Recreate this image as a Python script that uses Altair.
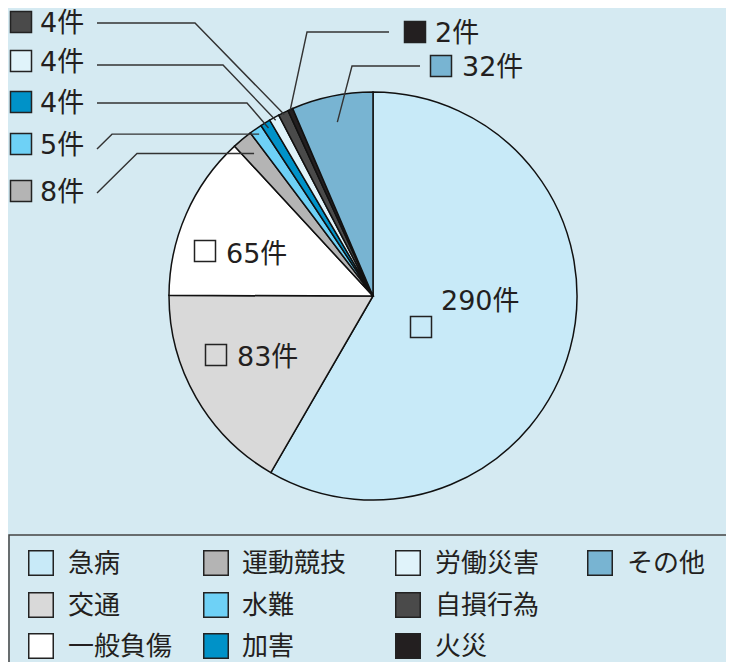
import math
import altair as alt
import pandas as pd

# ---------------- data ----------------
categories = ["急病", "交通", "一般負傷", "運動競技", "水難", "加害", "労働災害", "自損行為", "火災", "その他"]
counts = [290, 83, 65, 8, 5, 4, 4, 4, 2, 32]
colors = ["#c8eaf8", "#d9d9d9", "#ffffff", "#b4b4b4", "#6ed1f6", "#0092c8", "#e0f3fa", "#4a4a4a", "#231f20", "#78b4d2"]
unit = "件"

# ---------------- layout (page pixel coordinates) ----------------
PAGE_W, PAGE_H, MARGIN = 734, 670, 8
CX, CY, R = 373, 296, 204
FONT = "Noto Sans CJK JP"
NUM_FONT = "DejaVu Sans, Noto Sans CJK JP"
TEXT_COLOR = "#231f20"
BG = "#d5eaf2"

# outer labels: swatch centre, text start, leader start, elbow x, elbow mode, anchor radius fraction
outer = {
    "自損行為": dict(sx=21, sy=22, tx=40, lx=97, ly=23, ex=195, mode="label", rf=0.99),
    "労働災害": dict(sx=21, sy=61, tx=40, lx=97, ly=65, ex=223, mode="label", rf=0.985),
    "加害": dict(sx=21, sy=102, tx=40, lx=97, ly=103, ex=247, mode="label", rf=0.97),
    "水難": dict(sx=21, sy=144, tx=40, lx=97, ly=149, ex=112, mode="anchor", rf=0.97),
    "運動競技": dict(sx=21, sy=191, tx=40, lx=97, ly=193, ex=137, mode="anchor", rf=0.91),
    "火災": dict(sx=415, sy=32, tx=435, lx=389, ly=32, ex=307, mode="label", rf=1.0),
    "その他": dict(sx=441, sy=66, tx=462, lx=420, ly=66, ex=352, mode="label", rf=0.87),
}
# inner labels: swatch centre and text start
inner = {
    "急病": dict(sx=421, sy=327, tx=441, ty=301),
    "交通": dict(sx=216, sy=355, tx=237, ty=357),
    "一般負傷": dict(sx=205, sy=251, tx=226, ty=254),
}
leg_swatch_x = [41, 216, 408, 600]
leg_text_x = [68, 242, 435, 627]
leg_row_y = [563, 605, 646]

xs = alt.Scale(domain=[MARGIN, PAGE_W - MARGIN], nice=False, zero=False)
ys = alt.Scale(domain=[MARGIN, PAGE_H - MARGIN], nice=False, zero=False, reverse=True)
cscale = alt.Scale(domain=categories, range=colors)

# ---------------- derived tables ----------------
total = sum(counts)
cum = 0
mid_angle = {}
for c, n in zip(categories, counts):
    mid_angle[c] = (cum + n / 2) / total * 2 * math.pi
    cum += n

pie_df = pd.DataFrame({"cat": categories, "n": counts, "ord": list(range(len(categories)))})

line_rows, sw_rows, txt_rows = [], [], []
for c, n in zip(categories, counts):
    label = f"{n}{unit}"
    if c in outer:
        o = outer[c]
        a = mid_angle[c]
        ax = CX + o["rf"] * R * math.sin(a)
        ay = CY - o["rf"] * R * math.cos(a)
        ey = o["ly"] if o["mode"] == "label" else ay
        for i, (px, py) in enumerate([(o["lx"], o["ly"]), (o["ex"], ey), (ax, ay)]):
            line_rows.append({"id": c, "seq": i, "x": px, "y": py})
        sw_rows.append({"cat": c, "x": o["sx"], "y": o["sy"]})
        txt_rows.append({"t": label, "x": o["tx"], "y": o["sy"] + 2})
    if c in inner:
        o = inner[c]
        sw_rows.append({"cat": c, "x": o["sx"], "y": o["sy"]})
        txt_rows.append({"t": label, "x": o["tx"], "y": o["ty"] + 1})

leg_sw, leg_txt = [], []
for i, c in enumerate(categories):
    col, row = i // 3, i % 3
    leg_sw.append({"cat": c, "x": leg_swatch_x[col], "y": leg_row_y[row]})
    leg_txt.append({"t": c, "x": leg_text_x[col], "y": leg_row_y[row] + 1})

line_df = pd.DataFrame(line_rows)
sw_df = pd.DataFrame(sw_rows)
txt_df = pd.DataFrame(txt_rows)
leg_sw_df = pd.DataFrame(leg_sw)
leg_txt_df = pd.DataFrame(leg_txt)
box_df = pd.DataFrame([{"x": MARGIN + 1, "x2": PAGE_W - MARGIN + 2, "y": 535, "y2": PAGE_H - MARGIN + 2}])

X = lambda f: alt.X(f, scale=xs, axis=None)
Y = lambda f: alt.Y(f, scale=ys, axis=None)

# ---------------- layers ----------------
box = alt.Chart(box_df).mark_rect(fill=BG, stroke="#444", strokeWidth=1.5).encode(
    x=X("x:Q"), x2="x2:Q", y=Y("y:Q"), y2="y2:Q"
)

pie = alt.Chart(pie_df).mark_arc(
    outerRadius=R, stroke="#111", strokeWidth=1.5,
    x=CX - MARGIN, y=CY - MARGIN
).encode(
    theta=alt.Theta("n:Q", stack=True),
    order=alt.Order("ord:Q"),
    color=alt.Color("cat:N", scale=cscale, legend=None),
)

lines = alt.Chart(line_df).mark_line(color="#333", strokeWidth=1.4).encode(
    x=X("x:Q"), y=Y("y:Q"), detail="id:N", order="seq:Q"
)

swatches = alt.Chart(sw_df).mark_square(size=441, stroke="#222", strokeWidth=1.5, opacity=1).encode(
    x=X("x:Q"), y=Y("y:Q"), color=alt.Color("cat:N", scale=cscale, legend=None)
)

texts = alt.Chart(txt_df).mark_text(
    align="left", baseline="middle", font=NUM_FONT, fontSize=27, color=TEXT_COLOR
).encode(x=X("x:Q"), y=Y("y:Q"), text="t:N")

leg_squares = alt.Chart(leg_sw_df).mark_square(size=600, stroke="#222", strokeWidth=1.5, opacity=1).encode(
    x=X("x:Q"), y=Y("y:Q"), color=alt.Color("cat:N", scale=cscale, legend=None)
)

leg_texts = alt.Chart(leg_txt_df).mark_text(
    align="left", baseline="middle", font=FONT, fontSize=26, color=TEXT_COLOR
).encode(x=X("x:Q"), y=Y("y:Q"), text="t:N")

chart = alt.layer(box, pie, lines, swatches, texts, leg_squares, leg_texts).properties(
    width=PAGE_W - 2 * MARGIN,
    height=PAGE_H - 2 * MARGIN,
    autosize="none",
    padding=0,
    background=BG,
).configure_view(stroke=None)

chart.save("out.html", embed_options={"renderer": "svg", "actions": False})
